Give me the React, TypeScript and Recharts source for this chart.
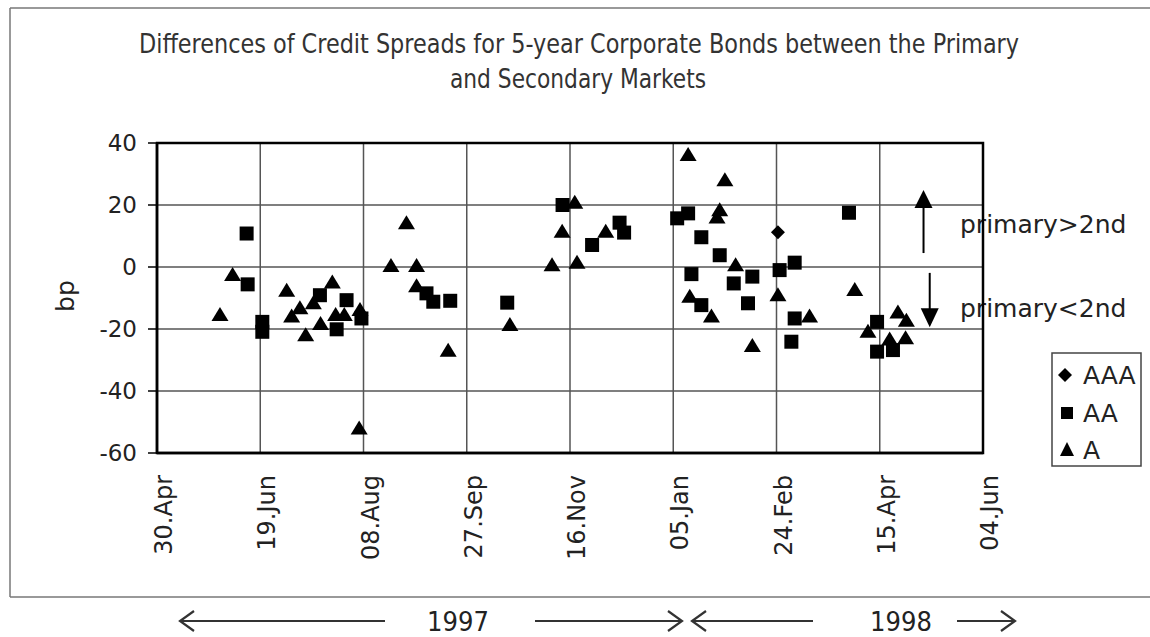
import React from 'react';
import {
  ScatterChart,
  Scatter,
  XAxis,
  YAxis,
  CartesianGrid,
  ReferenceArea,
  ReferenceLine,
  ReferenceDot,
} from 'recharts';

// x = days since 30.Apr 1997, y = spread difference in bp
const xTickValues = [0, 50, 100, 150, 200, 250, 300, 350, 400];
const xTickLabels = ['30.Apr', '19.Jun', '08.Aug', '27.Sep', '16.Nov', '05.Jan', '24.Feb', '15.Apr', '04.Jun'];
const yTickValues = [-60, -40, -20, 0, 20, 40];

const seriesNames = ['AAA', 'AA', 'A'];

const aaaPoints: [number, number][] = [[300.7, 11.2]];

const aaPoints: [number, number][] = [
  [43.4, 10.8], [43.9, -5.6], [51, -17.7], [51, -20.9], [78.9, -9.1], [87, -20.1],
  [91.8, -10.7], [99, -16.6], [130.5, -8.5], [133.8, -11.2], [142, -10.9], [169.6, -11.5],
  [196.4, 20], [210.7, 7.1], [224, 14.3], [226.2, 11.1], [251.9, 15.7], [257.2, 17.3],
  [263.6, 9.6], [272.5, 3.8], [258.8, -2.3], [279.3, -5.3], [288.3, -3.1], [286.2, -11.7],
  [263.6, -12.3], [301.5, -1], [308.8, 1.4], [308.8, -16.6], [307.2, -24.1], [335.1, 17.5],
  [348.7, -17.7], [348.7, -27.3], [356.4, -26.8],
];

const aPoints: [number, number][] = [
  [30.5, -15.5], [36.6, -2.6], [62.8, -7.7], [69.2, -13.3], [65.2, -16], [72, -22],
  [75.7, -11.7], [79.2, -18.4], [84.9, -5], [86.5, -15.5], [90.7, -15.5], [98.3, -13.9],
  [97.9, -52.1], [113.3, 0.3], [120.8, 14.1], [125.7, 0.3], [125.7, -6.2], [141, -27],
  [170.9, -18.7], [191.3, 0.6], [196.2, 11.4], [202.3, 20.7], [203.4, 1.4], [217.3, 11.4],
  [257.2, 36.1], [275, 28], [272.5, 18.3], [271.2, 16], [280.2, 0.6], [258, -9.6],
  [268.5, -16], [288.3, -25.5], [300.7, -9.1], [316, -16], [337.9, -7.4], [344.3, -20.9],
  [354.8, -23.4], [358.8, -14.7], [362.9, -17.3], [362.5, -23],
];

const toData = (pts: [number, number][]) => pts.map(([x, y]) => ({ x, y }));

const SquareShape = (props: any) => {
  const { cx, cy } = props;
  return <rect x={cx - 7} y={cy - 7} width={14} height={14} fill="#000" />;
};
const TriangleShape = (props: any) => {
  const { cx, cy } = props;
  return <polygon points={`${cx},${cy - 8} ${cx + 8.5},${cy + 6} ${cx - 8.5},${cy + 6}`} fill="#000" />;
};
const DiamondShape = (props: any) => {
  const { cx, cy } = props;
  return <polygon points={`${cx},${cy - 7} ${cx + 7},${cy} ${cx},${cy + 7} ${cx - 7},${cy}`} fill="#000" />;
};

const UpHead = (props: any) => {
  const { cx, cy } = props;
  return <polygon points={`${cx},${cy} ${cx + 9},${cy + 18} ${cx - 9},${cy + 18}`} fill="#000" />;
};
const DownHead = (props: any) => {
  const { cx, cy } = props;
  return <polygon points={`${cx},${cy} ${cx + 9},${cy - 19} ${cx - 9},${cy - 19}`} fill="#000" />;
};

const XTick = (props: any) => {
  const { x, y, payload } = props;
  const i = xTickValues.indexOf(payload.value);
  return (
    <g transform={`translate(${x + 15},${y + 22}) rotate(-90)`}>
      <text x={0} y={0} textAnchor="end" fontSize={24} fontFamily="DejaVu Sans" fill="#222">
        {xTickLabels[i]}
      </text>
    </g>
  );
};

const FONT = 'DejaVu Sans';
const TITLE_FONT = "'Liberation Sans Narrow', 'DejaVu Sans Condensed', sans-serif";

function Arrow({ x1, x2, y, dir }: { x1: number; x2: number; y: number; dir: 'left' | 'right' }) {
  const head = dir === 'left' ? x1 : x2;
  const s = dir === 'left' ? 1 : -1;
  return (
    <g stroke="#333" strokeWidth={2.2} fill="none">
      <line x1={x1} y1={y} x2={x2} y2={y} />
      <polyline points={`${head + s * 14},${y - 10} ${head},${y} ${head + s * 14},${y + 10}`} />
    </g>
  );
}

export default function App() {
  return (
    <div style={{ position: 'absolute', left: 0, top: 0, width: 1150, height: 637, background: '#fff' }}>
      <svg width={1150} height={637} style={{ position: 'absolute', left: 0, top: 0 }}>
        {/* frame */}
        <g stroke="#777" strokeWidth={1.5} fill="none">
          <line x1={10} y1={8} x2={1150} y2={8} />
          <line x1={10} y1={8} x2={10} y2={597} />
          <line x1={10} y1={597} x2={1150} y2={597} />
        </g>
        {/* title */}
        <text x={579} y={53} textAnchor="middle" fontSize={27} fontFamily={TITLE_FONT} fill="#333"
          textLength={880} lengthAdjust="spacingAndGlyphs">
          Differences of Credit Spreads for 5-year Corporate Bonds between the Primary
        </text>
        <text x={578} y={88} textAnchor="middle" fontSize={27} fontFamily={TITLE_FONT} fill="#333"
          textLength={256} lengthAdjust="spacingAndGlyphs">
          and Secondary Markets
        </text>
        {/* y label */}
        <text transform="translate(74,296) rotate(-90)" textAnchor="middle" fontSize={25} fontFamily={FONT} fill="#222">
          bp
        </text>
        {/* annotations */}
        <text x={960} y={233} fontSize={25} fontFamily={FONT} fill="#222">primary&gt;2nd</text>
        <text x={960} y={317} fontSize={25} fontFamily={FONT} fill="#222">primary&lt;2nd</text>
        {/* legend */}
        <rect x={1052} y={353} width={89} height={113} fill="#fff" stroke="#444" strokeWidth={1.5} />
        <DiamondShape cx={1065} cy={375} />
        <text x={1083} y={384} fontSize={25} fontFamily={FONT} fill="#222">{seriesNames[0]}</text>
        <rect x={1061} y={407} width={12} height={12} fill="#000" />
        <text x={1083} y={422} fontSize={25} fontFamily={FONT} fill="#222">{seriesNames[1]}</text>
        <polygon points="1067,442 1074,456 1060,456" fill="#000" />
        <text x={1083} y={459} fontSize={25} fontFamily={FONT} fill="#222">{seriesNames[2]}</text>
        {/* year row */}
        <Arrow x1={180} x2={385} y={621} dir="left" />
        <text x={458} y={631} textAnchor="middle" fontSize={27} fontFamily="'DejaVu Sans Condensed', sans-serif" fill="#222">1997</text>
        <Arrow x1={535} x2={682} y={621} dir="right" />
        <Arrow x1={692} x2={813} y={621} dir="left" />
        <text x={901} y={631} textAnchor="middle" fontSize={27} fontFamily="'DejaVu Sans Condensed', sans-serif" fill="#222">1998</text>
        <Arrow x1={957} x2={1015} y={621} dir="right" />
      </svg>
      <div style={{ position: 'absolute', left: 0, top: 0 }}>
        <ScatterChart width={1150} height={637} margin={{ top: 143, right: 167, bottom: 64, left: 97 }}>
          <CartesianGrid stroke="#555" strokeWidth={1.5} fill="none" />
          <XAxis
            type="number"
            dataKey="x"
            domain={[0, 400]}
            ticks={xTickValues}
            interval={0}
            height={120}
            tickLine={false}
            tickSize={0}
            tickMargin={0}
            axisLine={{ stroke: '#000', strokeWidth: 2.5 }}
            tick={<XTick />}
            allowDataOverflow
          />
          <YAxis
            type="number"
            dataKey="y"
            domain={[-60, 40]}
            ticks={yTickValues}
            interval={0}
            width={60}
            tickSize={9}
            tickMargin={11}
            tickLine={{ stroke: '#000', strokeWidth: 1.5 }}
            axisLine={{ stroke: '#000', strokeWidth: 2.5 }}
            tick={{ fontSize: 23, fontFamily: FONT, fill: '#222' }}
            allowDataOverflow
          />
          <ReferenceArea x1={0} x2={400} y1={-60} y2={40} fill="none" stroke="#000" strokeWidth={2.5} ifOverflow="visible" />
          <Scatter name={seriesNames[2]} data={toData(aPoints)} shape={<TriangleShape />} isAnimationActive={false} />
          <Scatter name={seriesNames[1]} data={toData(aaPoints)} shape={<SquareShape />} isAnimationActive={false} />
          <Scatter name={seriesNames[0]} data={toData(aaaPoints)} shape={<DiamondShape />} isAnimationActive={false} />
          <ReferenceLine segment={[{ x: 371.2, y: 4.5 }, { x: 371.2, y: 20 }]} stroke="#000" strokeWidth={2} />
          <ReferenceDot x={371.2} y={24.8} r={9} shape={<UpHead />} />
          <ReferenceLine segment={[{ x: 374.2, y: -1.9 }, { x: 374.2, y: -14 }]} stroke="#000" strokeWidth={2} />
          <ReferenceDot x={374.2} y={-19.4} r={9} shape={<DownHead />} />
        </ScatterChart>
      </div>
    </div>
  );
}
